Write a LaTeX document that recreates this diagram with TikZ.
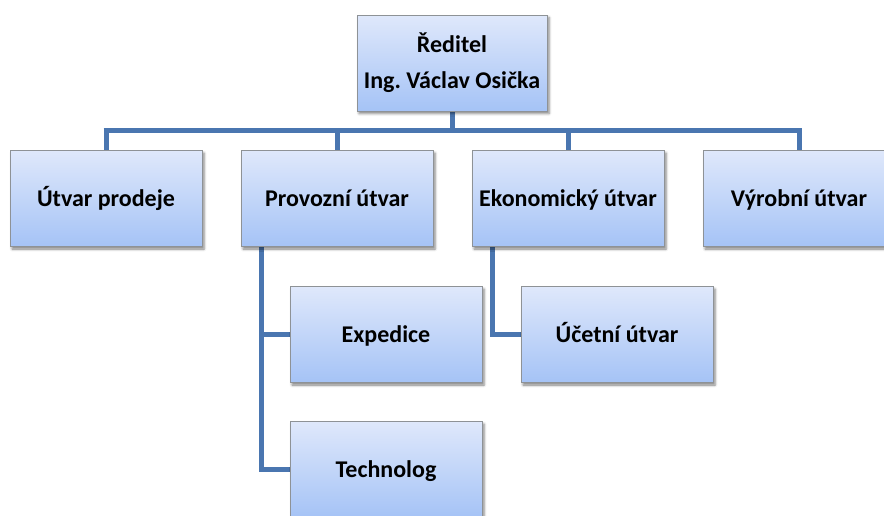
\documentclass[tikz,border=0pt]{standalone}
\usepackage{fontspec}
\setmainfont{Carlito}
\frenchspacing
\usetikzlibrary{shadows.blur,backgrounds}
\definecolor{linkblue}{HTML}{4A76B0}
\definecolor{boxtop}{HTML}{DFE8FB}
\definecolor{boxbot}{HTML}{A5C3F6}
\definecolor{boxline}{HTML}{8E9296}
\tikzset{
  unit/.style={rectangle, draw=boxline, line width=0.9pt,
    top color=boxtop, bottom color=boxbot,
    minimum width=192pt, minimum height=96pt, inner sep=2pt,
    text height=19pt, text depth=4pt,
    align=center, font=\fontsize{24}{24}\selectfont\bfseries,
    blur shadow={shadow xshift=2pt, shadow yshift=-2.5pt,
      shadow blur radius=2.5pt, shadow opacity=50}},
  link/.style={draw=linkblue, line width=5pt}
}
\begin{document}
\begin{tikzpicture}[x=1pt,y=-1pt]
  \useasboundingbox (0,0) rectangle (884,515);
  \clip (0,0) rectangle (884,515);

  % director
  \node[unit, minimum width=190pt, text height=, text depth=] (dir) at (452,63)
    {Ředitel\\[12pt]Ing.\ Václav Osička};

  % departments
  \node[unit] (sales) at (106,198.5) {Útvar prodeje};
  \node[unit] (ops)   at (337,198.5) {Provozní útvar};
  \node[unit] (econ)  at (568,198.5) {Ekonomický útvar};
  \node[unit] (prod)  at (799,198.5) {Výrobní útvar};

  % sub-units
  \node[unit] (exp)  at (386,334.5) {Expedice};
  \node[unit] (tech) at (386,469.5) {Technolog};
  \node[unit] (acc)  at (617,334.5) {Účetní útvar};

  % bus and branch points
  \coordinate (busL) at (106,130);
  \coordinate (busR) at (799,130);
  \coordinate (opsDrop)  at ([xshift=21pt]ops.south west);
  \coordinate (econDrop) at ([xshift=21pt]econ.south west);

  \begin{pgfonlayer}{background}
    \draw[link] (dir.south) -- (dir.south |- busL);
    \draw[link, line cap=butt] ([xshift=-2.5pt]busL) -- ([xshift=2.5pt]busR);
    \draw[link] (sales.north |- busL) -- (sales.north);
    \draw[link] (ops.north |- busL) -- (ops.north);
    \draw[link] (econ.north |- busL) -- (econ.north);
    \draw[link] (prod.north |- busL) -- (prod.north);
    \draw[link] (opsDrop) |- (tech.west);
    \draw[link] (opsDrop |- exp.west) -- (exp.west);
    \draw[link] (econDrop) |- (acc.west);
  \end{pgfonlayer}
\end{tikzpicture}
\end{document}
